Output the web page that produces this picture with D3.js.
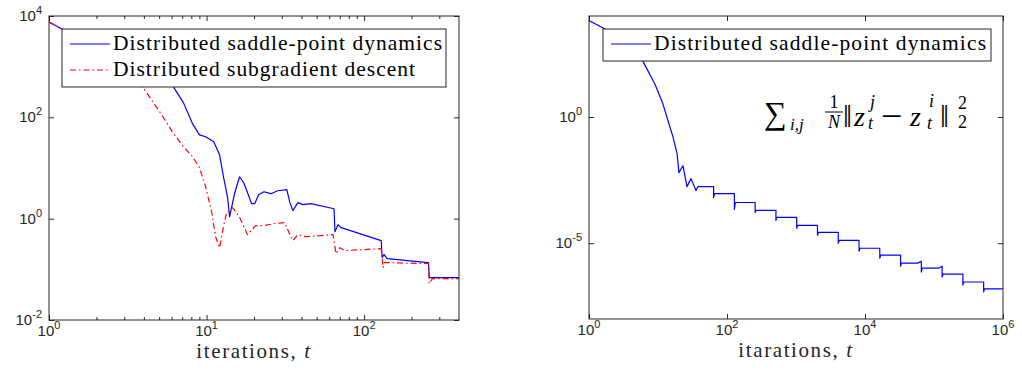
<!DOCTYPE html>
<html>
<head>
<meta charset="utf-8">
<script src="https://cdn.jsdelivr.net/npm/d3@7"></script>
<style>
  body { margin: 0; background: #fff; }
  svg { display: block; }
</style>
</head>
<body>
<svg width="1022" height="385"></svg>
<script>
// ---- data ----
// left panel
let saddleIterL = [1, 1.21, 6.16, 7.14, 8.15, 9.02, 9.86, 11.1, 12.1, 12.8, 13.6, 14.0, 15.1, 16.2, 17.2, 18.2, 19.3, 20.2, 21.4, 23.1, 25.6, 28.3, 32.3, 33.8, 35.3, 38.0, 40.9, 46.0, 64.4, 65.3, 68.3, 71.4, 128.3, 130.2, 134, 140, 256, 259, 400];
let saddleValL = [7600, 5550, 400, 193, 74.5, 45.2, 41.3, 32.9, 18.2, 6.72, 2.59, 1.09, 3.25, 6.72, 5.12, 3.25, 1.98, 1.98, 2.97, 3.40, 3.11, 3.56, 3.73, 2.07, 1.44, 2.07, 1.89, 1.98, 1.57, 0.554, 0.762, 0.665, 0.368, 0.171, 0.195, 0.163, 0.136, 0.0688, 0.0688];

let subgradIterL = [1, 1.21, 3.97, 5.09, 6.07, 7.14, 8.15, 9.02, 9.86, 10.8, 11.4, 12.1, 12.8, 13.4, 14.6, 16.0, 18.2, 20.5, 23.1, 26.7, 31.4, 33.3, 35.3, 38.0, 42.7, 63.5, 66.3, 70.3, 74.6, 128.3, 132, 134, 256, 259, 271, 400];
let subgradValL = [7600, 5550, 381, 123, 51.8, 26.2, 16.7, 10.1, 4.27, 1.31, 0.442, 0.268, 0.695, 1.31, 1.65, 1.15, 0.484, 0.728, 0.728, 0.797, 0.834, 0.530, 0.368, 0.484, 0.442, 0.484, 0.204, 0.268, 0.234, 0.256, 0.108, 0.136, 0.130, 0.0524, 0.0657, 0.0657];

// right panel (consensus error)
let saddleIterR = [1, 1.76, 6.06, 9.05, 11.8, 14.0, 16.5, 18.9, 20.1, 23.0, 26.3, 30.1, 35.5, 38.0,
  64, 64, 66, 128, 128, 132, 256, 256, 264, 512, 512, 528, 1024, 1024, 1056, 2048, 2048, 2112,
  4096, 4096, 4224, 8192, 8192, 8448, 16384, 16384, 16896, 32768, 32768, 33792, 58000, 65536,
  65536, 67584, 118000, 131072, 131072, 135168, 262144, 262144, 270336, 524288, 524288, 540672, 1000000];
let saddleValR = [6590, 2915, 160, 19.9, 3.25, 0.696, 0.163, 0.0349, 6.24e-3, 0.0118, 1.75e-3, 3.62e-3, 1.22e-3, 1.75e-3,
  1.75e-3, 6.47e-4, 9.3e-4, 9.3e-4, 2.18e-4, 4.11e-4, 4.11e-4, 1.66e-4, 1.99e-4, 1.99e-4, 8.05e-5, 1.06e-4, 1.06e-4, 3.9e-5, 5.12e-5, 5.12e-5, 2.07e-5, 2.71e-5,
  2.71e-5, 1.0e-5, 1.31e-5, 1.31e-5, 4.84e-6, 6.35e-6, 6.35e-6, 2.57e-6, 3.37e-6, 3.37e-6, 1.24e-6, 1.63e-6, 1.63e-6, 1.95e-6,
  7.22e-7, 1.04e-6, 1.04e-6, 1.24e-6, 4.58e-7, 6.02e-7, 6.02e-7, 2.22e-7, 2.92e-7, 2.92e-7, 1.18e-7, 1.55e-7, 1.55e-7];

// ticks / labels
let xTickExpL = [0, 1, 2];
let yTickExpL = [-2, 0, 2, 4];
let xTickExpR = [0, 2, 4, 6];
let yTickExpR = [-5, 0];
let legendL = ["Distributed saddle-point dynamics", "Distributed subgradient descent"];
let legendR = ["Distributed saddle-point dynamics"];
let xTitleL = "iterations, ";
let xTitleR = "itarations, ";

let svg = d3.select("svg");
let axisColor = "#262626";
let serif = "'Liberation Serif', 'Times New Roman', serif";

function zip(a, b) {
  return a.map((d, i) => [d, b[i]]);
}

function panel(opt) {
  let x = d3.scaleLog().domain(opt.xDomain).range([opt.left, opt.right]);
  let y = d3.scaleLog().domain(opt.yDomain).range([opt.bottom, opt.top]);
  let g = svg.append("g");

  // major / minor ticks, mirrored on all four sides (pointing inward)
  let xMajor = opt.xTicks.map((e) => Math.pow(10, e));
  let yMajor = opt.yTicks.map((e) => Math.pow(10, e));
  let sets = [[xMajor, 5]];
  if (opt.xMinor) sets.push([opt.xMinor, 3]);
  sets.forEach(([vals, len]) => {
    g.append("g").attr("transform", "translate(0," + opt.bottom + ")")
      .call(d3.axisBottom(x).tickValues(vals).tickSizeInner(-len).tickSizeOuter(0).tickFormat(""));
    g.append("g").attr("transform", "translate(0," + opt.top + ")")
      .call(d3.axisTop(x).tickValues(vals).tickSizeInner(-len).tickSizeOuter(0).tickFormat(""));
  });
  g.append("g").attr("transform", "translate(" + opt.left + ",0)")
    .call(d3.axisLeft(y).tickValues(yMajor).tickSizeInner(-5).tickSizeOuter(0).tickFormat(""));
  g.append("g").attr("transform", "translate(" + opt.right + ",0)")
    .call(d3.axisRight(y).tickValues(yMajor).tickSizeInner(-5).tickSizeOuter(0).tickFormat(""));
  g.selectAll(".domain").remove();
  g.selectAll(".tick line").attr("stroke", axisColor).attr("stroke-width", 1);

  // clip
  let cid = "clip" + opt.id;
  svg.append("clipPath").attr("id", cid).append("rect")
    .attr("x", opt.left).attr("y", opt.top)
    .attr("width", opt.right - opt.left).attr("height", opt.bottom - opt.top);

  let line = d3.line().x((d) => x(d[0])).y((d) => y(d[1]));
  opt.series.forEach((s) => {
    g.append("path")
      .datum(zip(s.t, s.v))
      .attr("clip-path", "url(#" + cid + ")")
      .attr("d", line)
      .attr("fill", "none")
      .attr("stroke", s.color)
      .attr("stroke-width", 1.2)
      .attr("stroke-dasharray", s.dash || null)
      .attr("stroke-linejoin", "round");
  });

  // frame
  g.append("rect")
    .attr("x", opt.left).attr("y", opt.top)
    .attr("width", opt.right - opt.left).attr("height", opt.bottom - opt.top)
    .attr("fill", "none").attr("stroke", axisColor).attr("stroke-width", 1);

  // tick labels 10^k
  let tf = "'Liberation Sans', Arial, Helvetica, sans-serif";
  opt.xTicks.forEach((e) => {
    let t = g.append("text")
      .attr("x", x(Math.pow(10, e)))
      .attr("y", opt.bottom + 16)
      .attr("text-anchor", "middle")
      .attr("font-family", tf).attr("font-size", 15).attr("fill", axisColor);
    t.append("tspan").text("10");
    t.append("tspan").attr("dy", -7).attr("font-size", 11).text(e);
  });
  opt.yTicks.forEach((e) => {
    let t = g.append("text")
      .attr("x", opt.left - 7)
      .attr("y", y(Math.pow(10, e)) + 5)
      .attr("text-anchor", "end")
      .attr("font-family", tf).attr("font-size", 15).attr("fill", axisColor);
    t.append("tspan").text("10");
    t.append("tspan").attr("dy", -7).attr("font-size", 11).text(e);
  });

  // x title
  let xt = g.append("text")
    .attr("x", (opt.left + opt.right) / 2)
    .attr("y", opt.bottom + 38)
    .attr("text-anchor", "middle")
    .attr("font-family", serif)
    .attr("font-size", 21).attr("letter-spacing", 1.6).attr("fill", axisColor);
  xt.append("tspan").text(opt.xTitle);
  xt.append("tspan").attr("font-style", "italic").text("t");

  // legend
  let lg = g.append("g");
  lg.append("rect")
    .attr("x", opt.legend.x).attr("y", opt.legend.y)
    .attr("width", opt.legend.w).attr("height", opt.legend.h)
    .attr("fill", "#fff").attr("stroke", axisColor).attr("stroke-width", 1);
  opt.legend.labels.forEach((lab, i) => {
    let s = opt.series[i];
    let cy = opt.legend.y + 15 + i * 26;
    lg.append("line")
      .attr("x1", opt.legend.x + 8).attr("x2", opt.legend.x + 48)
      .attr("y1", cy).attr("y2", cy)
      .attr("stroke", s.color).attr("stroke-width", 1.2)
      .attr("stroke-dasharray", s.dash || null);
    lg.append("text")
      .attr("x", opt.legend.x + 51)
      .attr("y", cy + 6)
      .attr("font-family", serif)
      .attr("font-size", 21.5).attr("fill", "#000")
      .attr("textLength", opt.legend.textW[i]).attr("lengthAdjust", "spacing")
      .text(lab);
  });
  return { x: x, y: y };
}

panel({
  id: "L", left: 49, right: 459, top: 16, bottom: 320,
  xDomain: [1, 400], yDomain: [1e-2, 1e4],
  xTicks: xTickExpL, yTicks: yTickExpL,
  xMinor: [2, 3, 4, 5, 6, 7, 8, 9, 20, 30, 40, 50, 60, 70, 80, 90, 200, 300],
  xTitle: xTitleL,
  series: [
    { t: saddleIterL, v: saddleValL, color: "#0000ff" },
    { t: subgradIterL, v: subgradValL, color: "#ff0000", dash: "6,3,1.5,3" }
  ],
  legend: { x: 62, y: 29, w: 384, h: 58, labels: legendL, textW: [329, 302] }
});

panel({
  id: "R", left: 589, right: 1003, top: 16, bottom: 319,
  xDomain: [1, 1e6], yDomain: [1e-8, 1e4],
  xTicks: xTickExpR, yTicks: yTickExpR,
  xMinor: null,
  xTitle: xTitleR,
  series: [
    { t: saddleIterR, v: saddleValR, color: "#0000ff" }
  ],
  legend: { x: 603, y: 29, w: 388, h: 32, labels: legendR, textW: [332] }
});

// formula annotation: sum_{i,j} 1/N ||z_t^j - z_t^i||_2^2
let ff = "'Liberation Serif', 'DejaVu Serif', serif";
let formula = [
  { s: "\u2211", x: 764, y: 124, size: 32 },
  { s: "i,j", x: 790, y: 130, size: 17, it: true },
  { s: "1", x: 834, y: 108, size: 18, anchor: "middle" },
  { s: "N", x: 834, y: 128, size: 18, it: true, anchor: "middle" },
  { s: "\u2016", x: 843, y: 127, size: 32 },
  { s: "z", x: 854, y: 126, size: 28, it: true },
  { s: "j", x: 870, y: 108, size: 18, it: true },
  { s: "t", x: 868, y: 129, size: 18, it: true },
  { s: "\u2212", x: 881, y: 129, size: 38 },
  { s: "z", x: 910, y: 126, size: 28, it: true },
  { s: "i", x: 929, y: 107, size: 18, it: true },
  { s: "t", x: 927, y: 129, size: 18, it: true },
  { s: "\u2016", x: 940, y: 127, size: 32 },
  { s: "2", x: 958, y: 109, size: 18 },
  { s: "2", x: 958, y: 128, size: 18 }
];
let fg = svg.append("g");
formula.forEach((p) => {
  fg.append("text")
    .attr("x", p.x).attr("y", p.y)
    .attr("font-family", ff).attr("font-size", p.size)
    .attr("font-style", p.it ? "italic" : "normal")
    .attr("text-anchor", p.anchor || "start")
    .attr("fill", "#000")
    .text(p.s);
});
fg.append("line").attr("x1", 825).attr("x2", 843).attr("y1", 112).attr("y2", 112)
  .attr("stroke", "#000").attr("stroke-width", 1);
</script>
</body>
</html>
